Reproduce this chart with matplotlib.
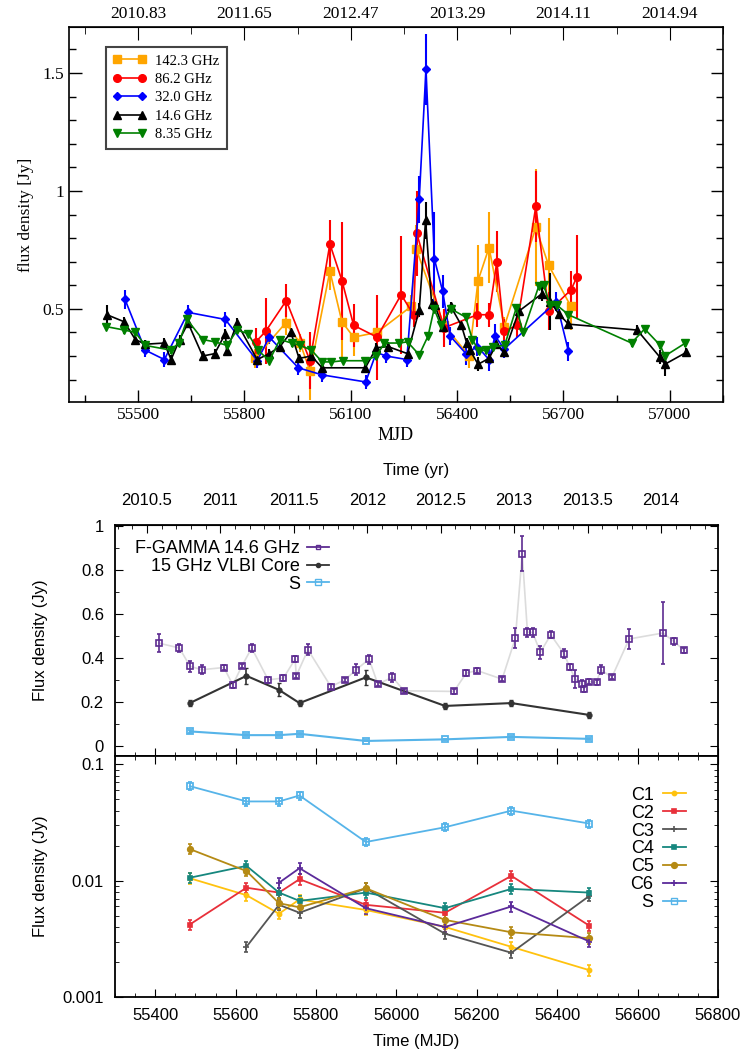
import numpy as np
import matplotlib.pyplot as plt
from matplotlib.lines import Line2D
from matplotlib.ticker import MultipleLocator, FixedLocator, FuncFormatter, LogLocator, NullFormatter

# ---------------- top panel: multi-frequency light curves (MJD, Jy)
mjd_142 = [55830, 55916, 55957, 55985, 56041, 56075, 56108, 56174, 56270, 56284, 56363, 56434,
           56459, 56490, 56533, 56622, 56658, 56721]
f_142 = [0.29, 0.44, 0.355, 0.235, 0.66, 0.445, 0.38, 0.40, 0.51, 0.755, 0.43, 0.30,
         0.62, 0.76, 0.425, 0.845, 0.685, 0.51]
e_142 = [0.04, 0.05, 0.04, 0.12, 0.08, 0.15, 0.08, 0.04, 0.05, 0.10, 0.06, 0.05,
         0.15, 0.15, 0.04, 0.25, 0.20, 0.10]

mjd_86 = [55832, 55860, 55918, 55985, 56041, 56075, 56108, 56174, 56242, 56277, 56286, 56363,
          56457, 56490, 56512, 56532, 56569, 56622, 56658, 56721, 56738]
f_86 = [0.36, 0.405, 0.535, 0.28, 0.775, 0.62, 0.43, 0.38, 0.56, 0.475, 0.82, 0.42,
        0.475, 0.475, 0.70, 0.405, 0.43, 0.935, 0.49, 0.58, 0.635]
e_86 = [0.06, 0.14, 0.07, 0.12, 0.10, 0.25, 0.09, 0.18, 0.25, 0.05, 0.18, 0.08,
        0.05, 0.05, 0.13, 0.05, 0.05, 0.15, 0.08, 0.08, 0.18]

mjd_32 = [55463, 55520, 55574, 55641, 55746, 55836, 55870, 55952, 56019, 56142, 56172, 56200,
          56258, 56293, 56312, 56336, 56359, 56380, 56425, 56457, 56490, 56507, 56533, 56680, 56714]
f_32 = [0.54, 0.325, 0.285, 0.485, 0.455, 0.28, 0.38, 0.25, 0.22, 0.19, 0.315, 0.30,
        0.285, 0.965, 1.515, 0.71, 0.575, 0.385, 0.31, 0.34, 0.285, 0.385, 0.33, 0.53, 0.32]
e_32 = [0.04, 0.03, 0.03, 0.03, 0.03, 0.03, 0.03, 0.03, 0.03, 0.03, 0.03, 0.03,
        0.03, 0.10, 0.15, 0.20, 0.07, 0.04, 0.05, 0.04, 0.05, 0.05, 0.04, 0.04, 0.04]

mjd_146 = [55412, 55461, 55492, 55520, 55574, 55593, 55617, 55641, 55682, 55716, 55746, 55750,
           55779, 55836, 55870, 55900, 55931, 55954, 55989, 56019, 56141, 56172, 56205, 56260,
           56293, 56311, 56328, 56337, 56359, 56382, 56412, 56427, 56436, 56459, 56490, 56511,
           56533, 56574, 56640, 56663, 56686, 56714, 56908, 56972, 56986, 57046]
f_146 = [0.475, 0.445, 0.37, 0.35, 0.355, 0.285, 0.37, 0.44, 0.30, 0.31, 0.395, 0.32,
         0.44, 0.285, 0.31, 0.34, 0.40, 0.29, 0.30, 0.25, 0.25, 0.335, 0.34, 0.31,
         0.495, 0.875, 0.52, 0.515, 0.425, 0.51, 0.43, 0.355, 0.325, 0.265, 0.29, 0.35,
         0.315, 0.49, 0.565, 0.53, 0.48, 0.435, 0.41, 0.295, 0.265, 0.315]
e_146 = [0.04, 0.02, 0.02, 0.02, 0.02, 0.02, 0.02, 0.02, 0.02, 0.02, 0.02, 0.02,
         0.02, 0.02, 0.02, 0.02, 0.02, 0.02, 0.02, 0.02, 0.02, 0.02, 0.02, 0.02,
         0.03, 0.08, 0.02, 0.02, 0.02, 0.02, 0.02, 0.02, 0.03, 0.03, 0.02, 0.02,
         0.02, 0.03, 0.03, 0.12, 0.02, 0.02, 0.02, 0.03, 0.05, 0.02]

mjd_835 = [55409, 55461, 55492, 55520, 55592, 55615, 55638, 55682, 55716, 55751, 55779, 55810,
           55838, 55870, 55900, 55933, 55957, 55989, 56019, 56045, 56078, 56139, 56172, 56195,
           56237, 56260, 56293, 56318, 56335, 56354, 56382, 56424, 56443, 56462, 56480, 56502,
           56534, 56567, 56586, 56630, 56644, 56663, 56682, 56714, 56892, 56929, 56973, 56986, 57044]
f_835 = [0.425, 0.41, 0.40, 0.345, 0.325, 0.355, 0.455, 0.37, 0.36, 0.345, 0.41, 0.395,
         0.325, 0.28, 0.37, 0.355, 0.345, 0.325, 0.275, 0.275, 0.28, 0.28, 0.30, 0.355,
         0.355, 0.36, 0.305, 0.385, 0.50, 0.43, 0.50, 0.465, 0.37, 0.32, 0.325, 0.34,
         0.345, 0.505, 0.40, 0.595, 0.60, 0.515, 0.515, 0.475, 0.355, 0.415, 0.345, 0.30, 0.355]

top_tick_mjd = [55500, 55800, 56100, 56400, 56700, 57000]
top_tick_years = ['2010.83', '2011.65', '2012.47', '2013.29', '2014.11', '2014.94']

# ---------------- middle panel: single-dish vs VLBI core
mjd_fg = [55409, 55460, 55487, 55516, 55571, 55593, 55616, 55640, 55681, 55719, 55748, 55751,
          55780, 55837, 55872, 55900, 55932, 55954, 55990, 56019, 56143, 56174, 56201, 56263,
          56296, 56313, 56326, 56339, 56358, 56384, 56417, 56431, 56445, 56461, 56466, 56479,
          56498, 56508, 56536, 56579, 56663, 56690, 56716]
f_fg = [0.467, 0.445, 0.361, 0.346, 0.356, 0.277, 0.364, 0.445, 0.300, 0.308, 0.394, 0.318,
        0.437, 0.269, 0.300, 0.346, 0.394, 0.280, 0.312, 0.250, 0.247, 0.331, 0.342, 0.303,
        0.490, 0.874, 0.516, 0.516, 0.425, 0.505, 0.419, 0.358, 0.303, 0.282, 0.258, 0.292,
        0.288, 0.346, 0.312, 0.486, 0.513, 0.475, 0.434]
e_fg = [0.04, 0.02, 0.025, 0.02, 0.01, 0.015, 0.01, 0.02, 0.015, 0.015, 0.015, 0.01,
        0.025, 0.01, 0.01, 0.025, 0.02, 0.01, 0.02, 0.01, 0.01, 0.015, 0.01, 0.01,
        0.045, 0.08, 0.02, 0.02, 0.03, 0.015, 0.02, 0.015, 0.04, 0.015, 0.015, 0.01,
        0.01, 0.02, 0.01, 0.045, 0.14, 0.015, 0.01]

epochs = [55486, 55627, 55708, 55759, 55924, 56121, 56286, 56480]
core = [0.194, 0.318, 0.254, 0.194, 0.311, 0.181, 0.194, 0.140]
core_err = [0.015, 0.035, 0.03, 0.012, 0.035, 0.015, 0.015, 0.012]

# ---------------- bottom panel: jet components (log scale)
s_flux = [0.065, 0.048, 0.048, 0.054, 0.0215, 0.0288, 0.040, 0.031]
c1 = [0.0105, 0.0075, 0.0052, 0.0069, 0.0056, 0.0040, 0.0027, 0.0017]
c2 = [0.0042, 0.0087, 0.0079, 0.0103, 0.0062, 0.0053, 0.0110, 0.0041]
c3 = [0.0027, 0.0062, 0.0053, 0.0086, 0.0035, 0.0024, 0.0074]          # from epochs[1:]
c4 = [0.0106, 0.0134, 0.0079, 0.0067, 0.0079, 0.0058, 0.0085, 0.0079]
c5 = [0.0187, 0.0121, 0.0064, 0.0059, 0.0086, 0.0046, 0.0036, 0.0032]
c6 = [0.0096, 0.0128, 0.0058, 0.0040, 0.0060, 0.0030]                  # from epochs[2:]
year_ticks = [2010.5, 2011, 2011.5, 2012, 2012.5, 2013, 2013.5, 2014]


def mjd2yr(m):
    return 2000 + (np.asarray(m) - 51544.5) / 365.25


def yr2mjd(y):
    return (np.asarray(y) - 2000) * 365.25 + 51544.5


W, H = 745, 1057
fig = plt.figure(figsize=(W / 100, H / 100), dpi=100)

# ======================= top panel =======================
serif = ['Liberation Serif', 'DejaVu Serif']
ax1 = fig.add_axes([69 / W, 1 - 402 / H, 654 / W, 375 / H])
series = [
    (mjd_142, f_142, e_142, 's', 'orange', '142.3 GHz'),
    (mjd_86, f_86, e_86, 'o', 'red', '86.2 GHz'),
    (mjd_32, f_32, e_32, 'D', 'blue', '32.0 GHz'),
    (mjd_146, f_146, e_146, '^', 'black', '14.6 GHz'),
    (mjd_835, f_835, [0.015] * len(f_835), 'v', 'green', '8.35 GHz'),
]
top_handles = []
for x, y, e, m, c, lab in series:
    ms = 4.5 if m == 'D' else 5.5
    ax1.errorbar(x, y, yerr=e, fmt='-' + m, color=c, mec=c, ms=ms, lw=1.2,
                 elinewidth=1.5, capsize=0)
    top_handles.append(Line2D([], [], color=c, marker=m, ms=ms, lw=1.2))

ax1.set_xlim(55305, 57150)
ax1.set_ylim(0.105, 1.695)
ax1.xaxis.set_major_locator(FixedLocator(top_tick_mjd))
ax1.xaxis.set_minor_locator(MultipleLocator(150))
ax1.yaxis.set_major_locator(FixedLocator([0.5, 1.0, 1.5]))
ax1.yaxis.set_major_formatter(FuncFormatter(lambda v, p: f'{v:g}'))
ax1.yaxis.set_minor_locator(MultipleLocator(0.1))
ax1.tick_params(which='both', direction='in', top=False, right=True, labelsize=12.5)
ax1.tick_params(which='major', length=9, width=1)
ax1.tick_params(which='minor', length=5, width=1)
for lbl in ax1.get_xticklabels() + ax1.get_yticklabels():
    lbl.set_family(serif)
ax1.set_xlabel('MJD', family=serif, fontsize=13, labelpad=3)
ax1.set_ylabel('flux density [Jy]', family=serif, fontsize=12.5, labelpad=6)
for sp in ax1.spines.values():
    sp.set_linewidth(1.2)

sec1 = ax1.secondary_xaxis('top')
sec1.set_xticks(top_tick_mjd, labels=top_tick_years)
sec1.xaxis.set_minor_locator(MultipleLocator(150))
sec1.tick_params(which='both', direction='in', labelsize=12.5)
sec1.tick_params(which='major', length=9)
sec1.tick_params(which='minor', length=5)
for lbl in sec1.get_xticklabels():
    lbl.set_family(serif)

leg1 = ax1.legend(top_handles, [s[-1] for s in series], loc='upper left',
                  bbox_to_anchor=(0.045, 0.966), numpoints=2,
                  prop={'family': serif, 'size': 10.5}, handlelength=2.3,
                  labelspacing=0.36, borderpad=0.5, handletextpad=0.6,
                  fancybox=False, framealpha=1)
leg1.get_frame().set_edgecolor('#444444')
leg1.get_frame().set_linewidth(1.5)

# ======================= middle panel =======================
sans = ['Liberation Sans', 'DejaVu Sans']
x0, x1 = 115, 718
ax2 = fig.add_axes([x0 / W, 1 - 756 / H, (x1 - x0) / W, 231 / H])
ax3 = fig.add_axes([x0 / W, 1 - 997 / H, (x1 - x0) / W, 241 / H], sharex=ax2)

ax2.plot(mjd_fg, f_fg, '-', color='#dcdcdc', lw=1.2, zorder=1)
ax2.errorbar(mjd_fg, f_fg, yerr=e_fg, fmt='s', color='#5d2c91', mfc='none', ms=4,
             mew=1.2, elinewidth=1.2, capsize=1.5, zorder=3)
ax2.errorbar(epochs, core, yerr=core_err, fmt='-o', color='#333333', ms=3.5, lw=1.5,
             elinewidth=1.2, capsize=1.5, zorder=2)
ax2.errorbar(epochs, s_flux, yerr=[v * 0.1 for v in s_flux], fmt='-s', color='#56b4e9',
             mfc='none', ms=5, mew=1.3, lw=1.5, capsize=1.5, zorder=2)
mid_handles = [Line2D([], [], color='#5d2c91', marker='s', mfc='none', ms=3.5, lw=1.3),
               Line2D([], [], color='#333333', marker='o', ms=3, lw=1.3),
               Line2D([], [], color='#56b4e9', marker='s', mfc='none', ms=4.5, lw=1.3)]
ax2.legend(mid_handles, ['F-GAMMA 14.6 GHz', '15 GHz VLBI Core', 'S'],
           loc='upper right', bbox_to_anchor=(0.376, 0.99), markerfirst=False, frameon=False,
           prop={'family': sans, 'size': 13}, handlelength=1.2, handletextpad=0.4,
           labelspacing=0.05, borderpad=0.2)

ax2.set_ylim(-0.047, 1.005)
ax2.yaxis.set_major_locator(MultipleLocator(0.2))
ax2.yaxis.set_minor_locator(MultipleLocator(0.1))
ax2.yaxis.set_major_formatter(FuncFormatter(lambda v, p: f'{v:g}'))
ax2.tick_params(which='both', direction='in', right=True, top=False, labelbottom=False,
                labelsize=12, pad=8)
ax2.tick_params(which='major', length=6)
ax2.tick_params(which='minor', length=3)
ax2.set_ylabel('Flux density (Jy)', family=sans, fontsize=12)
ax2.yaxis.set_label_coords(-0.111, 0.5)

sec2 = ax2.secondary_xaxis('top', functions=(mjd2yr, yr2mjd))
sec2.xaxis.set_major_locator(FixedLocator(year_ticks))
sec2.xaxis.set_minor_locator(MultipleLocator(0.1))
sec2.xaxis.set_major_formatter(FuncFormatter(lambda v, p: f'{v:g}'))
sec2.tick_params(which='both', direction='in', labelsize=12, pad=12)
sec2.tick_params(which='major', length=6)
sec2.tick_params(which='minor', length=3)
sec2.set_xlabel('Time (yr)', family=sans, fontsize=12, labelpad=13)

# ======================= bottom panel =======================
comps = [
    (epochs, c1, '#ffc20e', 'o', 3, 'C1'),
    (epochs, c2, '#e8303a', 's', 3.5, 'C2'),
    (epochs[1:], c3, '#555555', '+', 4, 'C3'),
    (epochs, c4, '#16877e', 's', 3.5, 'C4'),
    (epochs, c5, '#b58a14', 'o', 4, 'C5'),
    (epochs[2:], c6, '#5b2a9a', '+', 4, 'C6'),
]
handles = []
for x, y, c, m, ms, lab in comps:
    ax3.errorbar(x, y, yerr=[v * 0.1 for v in y], fmt='-' + m, color=c, ms=ms, lw=1.3,
                 elinewidth=1.2, capsize=1.5, mew=1.2)
    handles.append(Line2D([], [], color=c, marker=m, ms=ms, lw=1.3, mew=1.2))
ax3.errorbar(epochs, s_flux, yerr=[v * 0.08 for v in s_flux], fmt='-s', color='#56b4e9',
             mfc='none', ms=5, mew=1.3, lw=1.3, capsize=1.5)
handles.append(Line2D([], [], color='#56b4e9', marker='s', mfc='none', ms=4.5, lw=1.3))
ax3.legend(handles, ['C1', 'C2', 'C3', 'C4', 'C5', 'C6', 'S'], loc='upper right',
           bbox_to_anchor=(0.968, 0.925), markerfirst=False, frameon=False,
           prop={'family': sans, 'size': 13}, handlelength=1.3, handletextpad=0.5,
           labelspacing=0.05, borderpad=0.2)

ax3.set_yscale('log')
ax3.set_ylim(0.001, 0.118)
ax3.set_xlim(55300, 56800)
ax3.xaxis.set_major_locator(MultipleLocator(200))
ax3.xaxis.set_minor_locator(MultipleLocator(50))
ax3.yaxis.set_major_locator(LogLocator(base=10))
ax3.yaxis.set_minor_locator(LogLocator(base=10, subs=np.arange(2, 10)))
ax3.yaxis.set_minor_formatter(NullFormatter())
ax3.yaxis.set_major_formatter(FuncFormatter(lambda v, p: f'{v:g}'))
ax3.tick_params(which='both', direction='in', right=True, top=True, labelsize=12, pad=8)
ax3.tick_params(which='major', length=6)
ax3.tick_params(which='minor', length=3)
ax3.set_xlabel('Time (MJD)', family=sans, fontsize=12, labelpad=8)
ax3.set_ylabel('Flux density (Jy)', family=sans, fontsize=12)
ax3.yaxis.set_label_coords(-0.111, 0.5)

for ax in (ax2, ax3):
    for lbl in ax.get_xticklabels() + ax.get_yticklabels():
        lbl.set_family(sans)
    for sp in ax.spines.values():
        sp.set_linewidth(1.3)
for lbl in sec2.get_xticklabels():
    lbl.set_family(sans)

fig.savefig('out.png', dpi=100)
